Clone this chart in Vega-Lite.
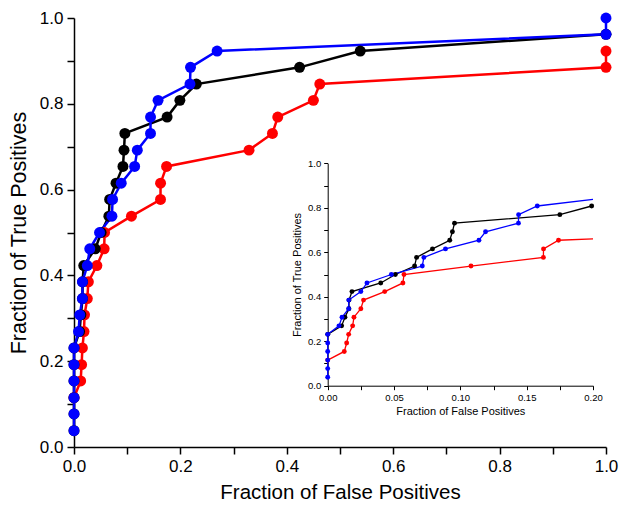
{
  "$schema": "https://vega.github.io/schema/vega-lite/v6.json",
  "width": 532,
  "height": 429,
  "autosize": "none",
  "padding": {"left": 74, "top": 18, "right": 21, "bottom": 60},
  "background": "white",
  "config": {
    "view": {"stroke": null},
    "font": "Liberation Sans",
    "axis": {"grid": false, "domainColor": "black", "tickColor": "black", "labelColor": "black", "titleColor": "black", "titleFontWeight": "normal", "labelFont": "Liberation Sans", "titleFont": "Liberation Sans"}
  },
  "datasets": {
    "main": [
      {"series": "red", "fp": 0, "tp": 0.115},
      {"series": "red", "fp": 0.0125, "tp": 0.154},
      {"series": "red", "fp": 0.0143, "tp": 0.192},
      {"series": "red", "fp": 0.0158, "tp": 0.231},
      {"series": "red", "fp": 0.0188, "tp": 0.269},
      {"series": "red", "fp": 0.0198, "tp": 0.308},
      {"series": "red", "fp": 0.025, "tp": 0.346},
      {"series": "red", "fp": 0.027, "tp": 0.385},
      {"series": "red", "fp": 0.043, "tp": 0.423},
      {"series": "red", "fp": 0.0567, "tp": 0.462},
      {"series": "red", "fp": 0.0575, "tp": 0.5},
      {"series": "red", "fp": 0.108, "tp": 0.538},
      {"series": "red", "fp": 0.1626, "tp": 0.577},
      {"series": "red", "fp": 0.1627, "tp": 0.615},
      {"series": "red", "fp": 0.174, "tp": 0.654},
      {"series": "red", "fp": 0.329, "tp": 0.692},
      {"series": "red", "fp": 0.373, "tp": 0.731},
      {"series": "red", "fp": 0.383, "tp": 0.769},
      {"series": "red", "fp": 0.45, "tp": 0.808},
      {"series": "red", "fp": 0.462, "tp": 0.846},
      {"series": "red", "fp": 1.0, "tp": 0.885},
      {"series": "red", "fp": 1.0, "tp": 0.923},
      {"series": "black", "fp": 0, "tp": 0.038},
      {"series": "black", "fp": 0, "tp": 0.077},
      {"series": "black", "fp": 0, "tp": 0.115},
      {"series": "black", "fp": 0, "tp": 0.154},
      {"series": "black", "fp": 0, "tp": 0.192},
      {"series": "black", "fp": 0, "tp": 0.231},
      {"series": "black", "fp": 0.0105, "tp": 0.269},
      {"series": "black", "fp": 0.013, "tp": 0.308},
      {"series": "black", "fp": 0.016, "tp": 0.346},
      {"series": "black", "fp": 0.0161, "tp": 0.385},
      {"series": "black", "fp": 0.0183, "tp": 0.423},
      {"series": "black", "fp": 0.04, "tp": 0.462},
      {"series": "black", "fp": 0.051, "tp": 0.5},
      {"series": "black", "fp": 0.0655, "tp": 0.538},
      {"series": "black", "fp": 0.067, "tp": 0.577},
      {"series": "black", "fp": 0.079, "tp": 0.615},
      {"series": "black", "fp": 0.092, "tp": 0.654},
      {"series": "black", "fp": 0.094, "tp": 0.692},
      {"series": "black", "fp": 0.0956, "tp": 0.731},
      {"series": "black", "fp": 0.175, "tp": 0.769},
      {"series": "black", "fp": 0.199, "tp": 0.808},
      {"series": "black", "fp": 0.23, "tp": 0.846},
      {"series": "black", "fp": 0.424, "tp": 0.885},
      {"series": "black", "fp": 0.538, "tp": 0.923},
      {"series": "black", "fp": 1.0, "tp": 0.962},
      {"series": "blue", "fp": 0, "tp": 0.038},
      {"series": "blue", "fp": 0, "tp": 0.077},
      {"series": "blue", "fp": 0, "tp": 0.115},
      {"series": "blue", "fp": 0, "tp": 0.154},
      {"series": "blue", "fp": 0, "tp": 0.192},
      {"series": "blue", "fp": 0, "tp": 0.231},
      {"series": "blue", "fp": 0.0085, "tp": 0.269},
      {"series": "blue", "fp": 0.0108, "tp": 0.308},
      {"series": "blue", "fp": 0.0158, "tp": 0.346},
      {"series": "blue", "fp": 0.0159, "tp": 0.385},
      {"series": "blue", "fp": 0.025, "tp": 0.423},
      {"series": "blue", "fp": 0.0296, "tp": 0.462},
      {"series": "blue", "fp": 0.048, "tp": 0.5},
      {"series": "blue", "fp": 0.0713, "tp": 0.538},
      {"series": "blue", "fp": 0.0725, "tp": 0.577},
      {"series": "blue", "fp": 0.0888, "tp": 0.615},
      {"series": "blue", "fp": 0.114, "tp": 0.654},
      {"series": "blue", "fp": 0.119, "tp": 0.692},
      {"series": "blue", "fp": 0.1438, "tp": 0.731},
      {"series": "blue", "fp": 0.1439, "tp": 0.769},
      {"series": "blue", "fp": 0.158, "tp": 0.808},
      {"series": "blue", "fp": 0.218, "tp": 0.846},
      {"series": "blue", "fp": 0.219, "tp": 0.885},
      {"series": "blue", "fp": 0.269, "tp": 0.923},
      {"series": "blue", "fp": 1.0, "tp": 0.962},
      {"series": "blue", "fp": 1.0, "tp": 1.0}
    ],
    "inset": [
      {"series": "red", "fp": 0, "tp": 0.115},
      {"series": "red", "fp": 0.0125, "tp": 0.154},
      {"series": "red", "fp": 0.0143, "tp": 0.192},
      {"series": "red", "fp": 0.0158, "tp": 0.231},
      {"series": "red", "fp": 0.0188, "tp": 0.269},
      {"series": "red", "fp": 0.0198, "tp": 0.308},
      {"series": "red", "fp": 0.025, "tp": 0.346},
      {"series": "red", "fp": 0.027, "tp": 0.385},
      {"series": "red", "fp": 0.043, "tp": 0.423},
      {"series": "red", "fp": 0.0567, "tp": 0.462},
      {"series": "red", "fp": 0.0575, "tp": 0.5},
      {"series": "red", "fp": 0.108, "tp": 0.538},
      {"series": "red", "fp": 0.1626, "tp": 0.577},
      {"series": "red", "fp": 0.1627, "tp": 0.615},
      {"series": "red", "fp": 0.174, "tp": 0.654},
      {"series": "red", "fp": 0.2, "tp": 0.66},
      {"series": "black", "fp": 0, "tp": 0.231},
      {"series": "black", "fp": 0.0105, "tp": 0.269},
      {"series": "black", "fp": 0.013, "tp": 0.308},
      {"series": "black", "fp": 0.016, "tp": 0.346},
      {"series": "black", "fp": 0.0161, "tp": 0.385},
      {"series": "black", "fp": 0.0183, "tp": 0.423},
      {"series": "black", "fp": 0.04, "tp": 0.462},
      {"series": "black", "fp": 0.051, "tp": 0.5},
      {"series": "black", "fp": 0.0655, "tp": 0.538},
      {"series": "black", "fp": 0.067, "tp": 0.577},
      {"series": "black", "fp": 0.079, "tp": 0.615},
      {"series": "black", "fp": 0.092, "tp": 0.654},
      {"series": "black", "fp": 0.094, "tp": 0.692},
      {"series": "black", "fp": 0.0956, "tp": 0.731},
      {"series": "black", "fp": 0.175, "tp": 0.769},
      {"series": "black", "fp": 0.199, "tp": 0.808},
      {"series": "blue", "fp": 0, "tp": 0.038},
      {"series": "blue", "fp": 0, "tp": 0.077},
      {"series": "blue", "fp": 0, "tp": 0.115},
      {"series": "blue", "fp": 0, "tp": 0.154},
      {"series": "blue", "fp": 0, "tp": 0.192},
      {"series": "blue", "fp": 0, "tp": 0.231},
      {"series": "blue", "fp": 0.0085, "tp": 0.269},
      {"series": "blue", "fp": 0.0108, "tp": 0.308},
      {"series": "blue", "fp": 0.0158, "tp": 0.346},
      {"series": "blue", "fp": 0.0159, "tp": 0.385},
      {"series": "blue", "fp": 0.025, "tp": 0.423},
      {"series": "blue", "fp": 0.0296, "tp": 0.462},
      {"series": "blue", "fp": 0.048, "tp": 0.5},
      {"series": "blue", "fp": 0.0713, "tp": 0.538},
      {"series": "blue", "fp": 0.0725, "tp": 0.577},
      {"series": "blue", "fp": 0.0888, "tp": 0.615},
      {"series": "blue", "fp": 0.114, "tp": 0.654},
      {"series": "blue", "fp": 0.119, "tp": 0.692},
      {"series": "blue", "fp": 0.1438, "tp": 0.731},
      {"series": "blue", "fp": 0.1439, "tp": 0.769},
      {"series": "blue", "fp": 0.158, "tp": 0.808},
      {"series": "blue", "fp": 0.2, "tp": 0.838}
    ]
  },
  "layer": [
    {
      "data": {"name": "main"},
      "encoding": {
        "x": {"field": "fp", "type": "quantitative",
          "scale": {"domain": [0, 1], "nice": false},
          "axis": {"title": "Fraction of False Positives", "values": [0, 0.1, 0.2, 0.3, 0.4, 0.5, 0.6, 0.7, 0.8, 0.9, 1.0],
            "labelExpr": "round(datum.value*10) % 2 == 0 ? format(datum.value, '.1f') : ''",
            "labelFontSize": 17, "titleFontSize": 20.5, "tickSize": 7, "tickWidth": 1.5, "domainWidth": 1.5, "labelPadding": 4, "titlePadding": 8, "labelFlush": false, "labelOverlap": false}},
        "y": {"field": "tp", "type": "quantitative",
          "scale": {"domain": [0, 1], "nice": false},
          "axis": {"title": "Fraction of True Positives", "values": [0, 0.1, 0.2, 0.3, 0.4, 0.5, 0.6, 0.7, 0.8, 0.9, 1.0],
            "labelExpr": "round(datum.value*10) % 2 == 0 ? format(datum.value, '.1f') : ''",
            "labelFontSize": 17, "titleFontSize": 21.5, "tickSize": 7, "tickWidth": 1.5, "domainWidth": 1.5, "labelPadding": 4, "titlePadding": 9, "labelFlush": false, "labelOverlap": false}},
        "color": {"field": "series", "type": "nominal",
          "scale": {"domain": ["black", "blue", "red"], "range": ["#000000", "#0000ff", "#ff0000"]}, "legend": null},
        "order": {"field": "tp", "type": "quantitative"}
      },
      "layer": [
        {"mark": {"type": "line", "strokeWidth": 2.5, "clip": false}},
        {"mark": {"type": "point", "filled": true, "size": 120, "opacity": 1, "clip": false}, "encoding": {"order": {"value": null}}}
      ]
    },
    {
      "data": {"name": "inset"},
      "encoding": {
        "x": {"field": "fp", "type": "quantitative",
          "scale": {"domain": [0, 0.2], "nice": false, "range": [253.7, 519]},
          "axis": {"orient": "bottom", "offset": -61.3, "title": "Fraction of False Positives", "values": [0, 0.025, 0.05, 0.075, 0.1, 0.125, 0.15, 0.175, 0.2],
            "labelExpr": "round(datum.value*40) % 2 == 0 ? format(datum.value, '.2f') : ''",
            "labelFontSize": 9.5, "titleFontSize": 11, "tickSize": 4, "tickWidth": 1, "domainWidth": 1, "labelPadding": 3, "titlePadding": 3, "labelFlush": false, "labelOverlap": false}},
        "y": {"field": "tp", "type": "quantitative",
          "scale": {"domain": [0, 1], "nice": false, "range": [367.7, 145.3]},
          "axis": {"orient": "left", "offset": -253.7, "title": "Fraction of True Positives", "values": [0, 0.1, 0.2, 0.3, 0.4, 0.5, 0.6, 0.7, 0.8, 0.9, 1.0],
            "labelExpr": "round(datum.value*10) % 2 == 0 ? format(datum.value, '.1f') : ''",
            "labelFontSize": 9.5, "titleFontSize": 11, "tickSize": 4, "tickWidth": 1, "domainWidth": 1, "labelPadding": 3, "titlePadding": 5, "labelFlush": false, "labelOverlap": false}},
        "color": {"field": "series", "type": "nominal", "legend": null},
        "order": {"field": "tp", "type": "quantitative"}
      },
      "layer": [
        {"mark": {"type": "line", "strokeWidth": 1.3, "clip": false}},
        {"transform": [{"filter": "datum.fp < 0.2"}],
         "mark": {"type": "point", "filled": true, "size": 24, "opacity": 1, "clip": false}, "encoding": {"order": {"value": null}}}
      ]
    }
  ],
  "resolve": {"scale": {"x": "independent", "y": "independent"}, "axis": {"x": "independent", "y": "independent"}}
}
